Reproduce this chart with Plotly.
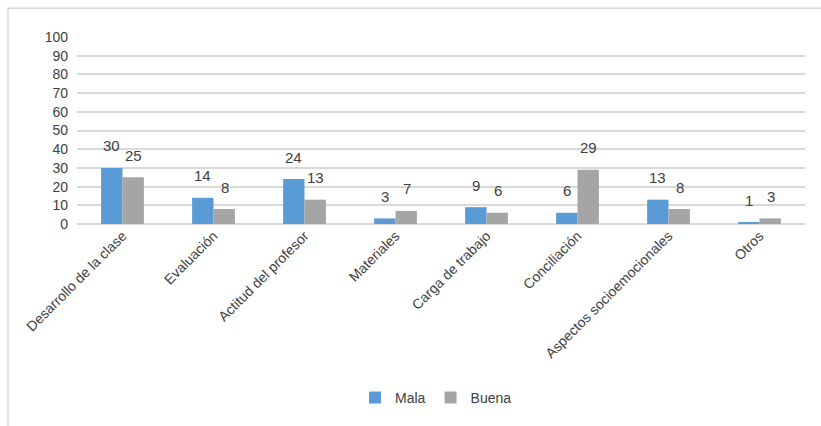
import plotly.graph_objects as go

categories = ["Desarrollo de la clase", "Evaluación", "Actitud del profesor", "Materiales",
              "Carga de trabajo", "Conciliación", "Aspectos socioemocionales", "Otros"]
mala = [30, 14, 24, 3, 9, 6, 13, 1]
buena = [25, 8, 13, 7, 6, 29, 8, 3]
y_ticks = list(range(0, 101, 10))

BLUE = "#5B9BD5"
GRAY = "#A5A5A5"
TEXT = "#404040"
FONT = "Liberation Sans, Arial, sans-serif"

W, H = 821, 426
ML, MR, MT, MB = 77, 16, 37, 200
PW, PH = W - ML - MR, H - MT - MB

fig = go.Figure()
fig.add_trace(go.Bar(name="Mala", x=categories, y=mala, marker=dict(color=BLUE, line=dict(width=0))))
fig.add_trace(go.Bar(name="Buena", x=categories, y=buena, marker=dict(color=GRAY, line=dict(width=0))))

# value labels above each bar
for series, shift in ((mala, -11), (buena, 11)):
    for cat, v in zip(categories, series):
        fig.add_annotation(x=cat, y=v, text=str(v), showarrow=False, xshift=shift, yshift=22,
                           font=dict(family=FONT, size=15, color=TEXT))

# chart-area border (left and top edges visible)
x0 = (8 - ML) / PW
y1 = 1 + (MT - 8) / PH
fig.add_shape(type="rect", xref="paper", yref="paper", x0=x0, x1=1.2, y0=-2, y1=y1,
              line=dict(color="#D9D9D9", width=1.5), layer="below")

fig.update_layout(
    width=W, height=H,
    margin=dict(l=ML, r=MR, t=MT, b=MB),
    barmode="group", bargap=0.53, bargroupgap=0,
    plot_bgcolor="white", paper_bgcolor="white",
    font=dict(family=FONT, size=14, color=TEXT),
    showlegend=True,
    legend=dict(orientation="h", x=(436 - ML) / PW, xanchor="center", y=-0.93, yanchor="middle",
                font=dict(family=FONT, size=14, color=TEXT), itemwidth=30,
                traceorder="normal"),
    xaxis=dict(tickangle=-45, tickfont=dict(family=FONT, size=14, color=TEXT),
               showgrid=False, showline=False, ticks=""),
    yaxis=dict(range=[0, 100], tickvals=y_ticks, showgrid=True, gridcolor="#D9D9D9", gridwidth=1.5,
               zeroline=True, zerolinecolor="#D9D9D9", zerolinewidth=1.5,
               tickfont=dict(family=FONT, size=14, color=TEXT), ticklabelstandoff=8),
)

fig.write_html("out.html")
